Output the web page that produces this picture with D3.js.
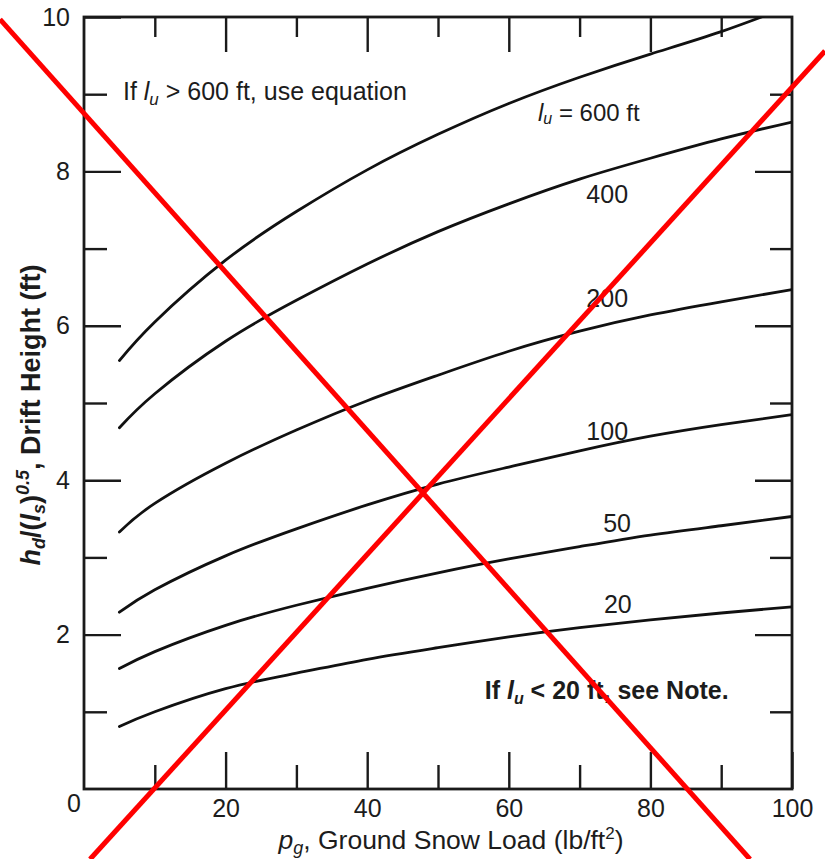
<!DOCTYPE html>
<html>
<head>
<meta charset="utf-8">
<script src="https://cdn.jsdelivr.net/npm/d3@7"></script>
<style>
  body { margin: 0; background: #fff; }
  svg text { font-family: "Liberation Sans", Arial, sans-serif; fill: #1c1c1c; }
</style>
</head>
<body>
<div id="chart"></div>
<script>
// Data (pg in lb/ft2, drift height in ft)
const pgValues = [5, 10, 20, 30, 40, 50, 60, 70, 80, 90, 100];
const lu600 = [5.55, 6.05, 6.85, 7.48, 8.02, 8.48, 8.88, 9.22, 9.52, 9.81, 10.15];
const lu400 = [4.68, 5.12, 5.8, 6.33, 6.8, 7.22, 7.58, 7.9, 8.17, 8.42, 8.64];
const lu200 = [3.33, 3.7, 4.22, 4.65, 5.03, 5.36, 5.67, 5.93, 6.14, 6.31, 6.47];
const lu100 = [2.29, 2.58, 3.02, 3.37, 3.68, 3.95, 4.17, 4.38, 4.57, 4.72, 4.85];
const lu50 = [1.56, 1.78, 2.12, 2.38, 2.6, 2.8, 2.98, 3.14, 3.29, 3.41, 3.53];
const lu20 = [0.81, 1.0, 1.3, 1.5, 1.68, 1.83, 1.97, 2.09, 2.19, 2.28, 2.36];
const seriesList = [lu600, lu400, lu200, lu100, lu50, lu20];

const xTickLabels = [20, 40, 60, 80, 100];
const yTickLabels = [2, 4, 6, 8, 10];

// curve labels, anchored in chart units
const curveLabels = [
  { text: "600", pg: 71.3, val: 8.73, full: true },
  { text: "400", pg: 73.9, val: 7.67 },
  { text: "200", pg: 73.9, val: 6.33 },
  { text: "100", pg: 73.9, val: 4.6 },
  { text: "50", pg: 75.3, val: 3.42 },
  { text: "20", pg: 75.4, val: 2.36 },
];

// the red cross drawn over the figure, in chart units
const crossOut = [
  [[-11.86, 9.97], [94.07, -0.91]],
  [[0.85, -0.91], [104.66, 9.56]],
];

// Dimensions
const dimensions = {
  width: 825,
  height: 859,
  margin: { top: 17, right: 33, bottom: 70, left: 84 },
};
dimensions.containerWidth =
  dimensions.width - dimensions.margin.left - dimensions.margin.right;
dimensions.containerHeight =
  dimensions.height - dimensions.margin.top - dimensions.margin.bottom;

const svg = d3
  .select("#chart")
  .append("svg")
  .attr("width", dimensions.width)
  .attr("height", dimensions.height);

const container = svg
  .append("g")
  .attr("transform", `translate(${dimensions.margin.left}, ${dimensions.margin.top})`);

// Scales
const xScale = d3.scaleLinear().domain([0, 100]).range([0, dimensions.containerWidth]);
const yScale = d3.scaleLinear().domain([0, 10]).range([dimensions.containerHeight, 0]);

svg
  .append("defs")
  .append("clipPath")
  .attr("id", "plot-clip")
  .append("rect")
  .attr("width", dimensions.containerWidth)
  .attr("height", dimensions.containerHeight);

// Axes: major and minor ticks all point inward
const axisStyle = (g) => {
  g.select(".domain").remove();
  g.selectAll(".tick line").attr("stroke", "#1a1a1a").attr("stroke-width", 2.4);
  g.selectAll(".tick text").attr("font-size", 25).attr("fill", "#1c1c1c");
};

container
  .append("g")
  .attr("transform", `translate(0, ${dimensions.containerHeight})`)
  .call(d3.axisBottom(xScale).tickValues(xTickLabels).tickSize(-37).tickPadding(10))
  .call(axisStyle);
container
  .append("g")
  .attr("transform", `translate(0, ${dimensions.containerHeight})`)
  .call(d3.axisBottom(xScale).tickValues([10, 30, 50, 70, 90]).tickSize(-24).tickFormat(""))
  .call(axisStyle);
container
  .append("g")
  .call(d3.axisTop(xScale).tickValues([20, 40, 60, 80]).tickSize(-35).tickFormat(""))
  .call(axisStyle);
container
  .append("g")
  .call(d3.axisTop(xScale).tickValues([10, 30, 50, 70, 90]).tickSize(-20).tickFormat(""))
  .call(axisStyle);
container
  .append("g")
  .call(d3.axisLeft(yScale).tickValues(yTickLabels).tickSize(-37).tickPadding(14))
  .call(axisStyle);
container
  .append("g")
  .call(d3.axisLeft(yScale).tickValues([1, 3, 5, 7, 9]).tickSize(-23).tickFormat(""))
  .call(axisStyle);
container
  .append("g")
  .attr("transform", `translate(${dimensions.containerWidth}, 0)`)
  .call(d3.axisRight(yScale).tickValues([2, 4, 6, 8]).tickSize(-37).tickFormat(""))
  .call(axisStyle);
container
  .append("g")
  .attr("transform", `translate(${dimensions.containerWidth}, 0)`)
  .call(d3.axisRight(yScale).tickValues([1, 3, 5, 7, 9]).tickSize(-22).tickFormat(""))
  .call(axisStyle);

// shared zero at the corner
container
  .append("text")
  .attr("x", xScale(0) - 10)
  .attr("y", yScale(0) + 23)
  .attr("text-anchor", "middle")
  .attr("font-size", 25)
  .text("0");

// Frame
container
  .append("rect")
  .attr("width", dimensions.containerWidth)
  .attr("height", dimensions.containerHeight)
  .attr("fill", "none")
  .attr("stroke", "#1a1a1a")
  .attr("stroke-width", 2.8);

// Curves
const lineGen = (values) =>
  d3
    .line()
    .x((d, i) => xScale(pgValues[i]))
    .y((d) => yScale(d))
    .curve(d3.curveNatural)(values);

container
  .append("g")
  .attr("clip-path", "url(#plot-clip)")
  .selectAll("path")
  .data(seriesList)
  .join("path")
  .attr("d", lineGen)
  .attr("fill", "none")
  .attr("stroke", "#111")
  .attr("stroke-width", 2.8)
  .attr("stroke-linecap", "round");

// Curve labels
const labels = container
  .selectAll(".curve-label")
  .data(curveLabels)
  .join("text")
  .classed("curve-label", true)
  .attr("x", (d) => xScale(d.pg))
  .attr("y", (d) => yScale(d.val))
  .attr("text-anchor", "middle")
  .attr("dominant-baseline", "middle")
  .attr("font-size", 25);
labels.each(function (d) {
  const t = d3.select(this);
  if (d.full) {
    t.attr("font-size", 24);
    t.append("tspan").attr("font-style", "italic").text("l");
    t.append("tspan").attr("font-style", "italic").attr("font-size", 16).attr("dy", 5).text("u");
    t.append("tspan").attr("dy", -5).text(" = " + d.text + " ft");
  } else {
    t.text(d.text);
  }
});

// Notes
const note1 = container
  .append("text")
  .attr("x", xScale(5.5))
  .attr("y", yScale(8.93))
  .attr("font-size", 25);
note1.append("tspan").text("If ");
note1.append("tspan").attr("font-style", "italic").text("l");
note1.append("tspan").attr("font-style", "italic").attr("font-size", 17).attr("dy", 5).text("u");
note1.append("tspan").attr("dy", -5).text(" > 600 ft, use equation");

const note2 = container
  .append("text")
  .attr("x", xScale(56.6))
  .attr("y", yScale(1.17))
  .attr("font-size", 25)
  .attr("font-weight", "bold");
note2.append("tspan").text("If ");
note2.append("tspan").attr("font-style", "italic").text("l");
note2.append("tspan").attr("font-style", "italic").attr("font-size", 16).attr("dy", 5).text("u");
note2.append("tspan").attr("dy", -5).text(" < 20 ft, see Note.");

// Axis titles
const xTitle = svg
  .append("text")
  .attr("x", 451)
  .attr("y", 849)
  .attr("text-anchor", "middle")
  .attr("font-size", 26.5);
xTitle.append("tspan").attr("font-style", "italic").text("p");
xTitle.append("tspan").attr("font-style", "italic").attr("font-size", 18).attr("dy", 5).text("g");
xTitle.append("tspan").attr("dy", -5).text(", Ground Snow Load (lb/ft");
xTitle.append("tspan").attr("font-size", 17).attr("dy", -10).text("2");
xTitle.append("tspan").attr("dy", 10).text(")");

const yTitle = svg
  .append("text")
  .attr("transform", "translate(40, 415) rotate(-90)")
  .attr("text-anchor", "middle")
  .attr("font-size", 27)
  .attr("font-weight", "bold");
yTitle.append("tspan").attr("font-style", "italic").text("h");
yTitle.append("tspan").attr("font-style", "italic").attr("font-size", 18).attr("dy", 5).text("d");
yTitle.append("tspan").attr("dy", -5).text("/(");
yTitle.append("tspan").attr("font-style", "italic").text("l");
yTitle.append("tspan").attr("font-style", "italic").attr("font-size", 18).attr("dy", 5).text("s");
yTitle.append("tspan").attr("dy", -5).text(")");
yTitle.append("tspan").attr("font-style", "italic").attr("font-size", 18).attr("dy", -11).text("0.5");
yTitle.append("tspan").attr("dy", 11).text(", Drift Height (ft)");

// Red cross over the figure
container
  .append("g")
  .selectAll("line")
  .data(crossOut)
  .join("line")
  .attr("x1", (d) => xScale(d[0][0]))
  .attr("y1", (d) => yScale(d[0][1]))
  .attr("x2", (d) => xScale(d[1][0]))
  .attr("y2", (d) => yScale(d[1][1]))
  .attr("stroke", "#ff0000")
  .attr("stroke-width", 5);
</script>
</body>
</html>
